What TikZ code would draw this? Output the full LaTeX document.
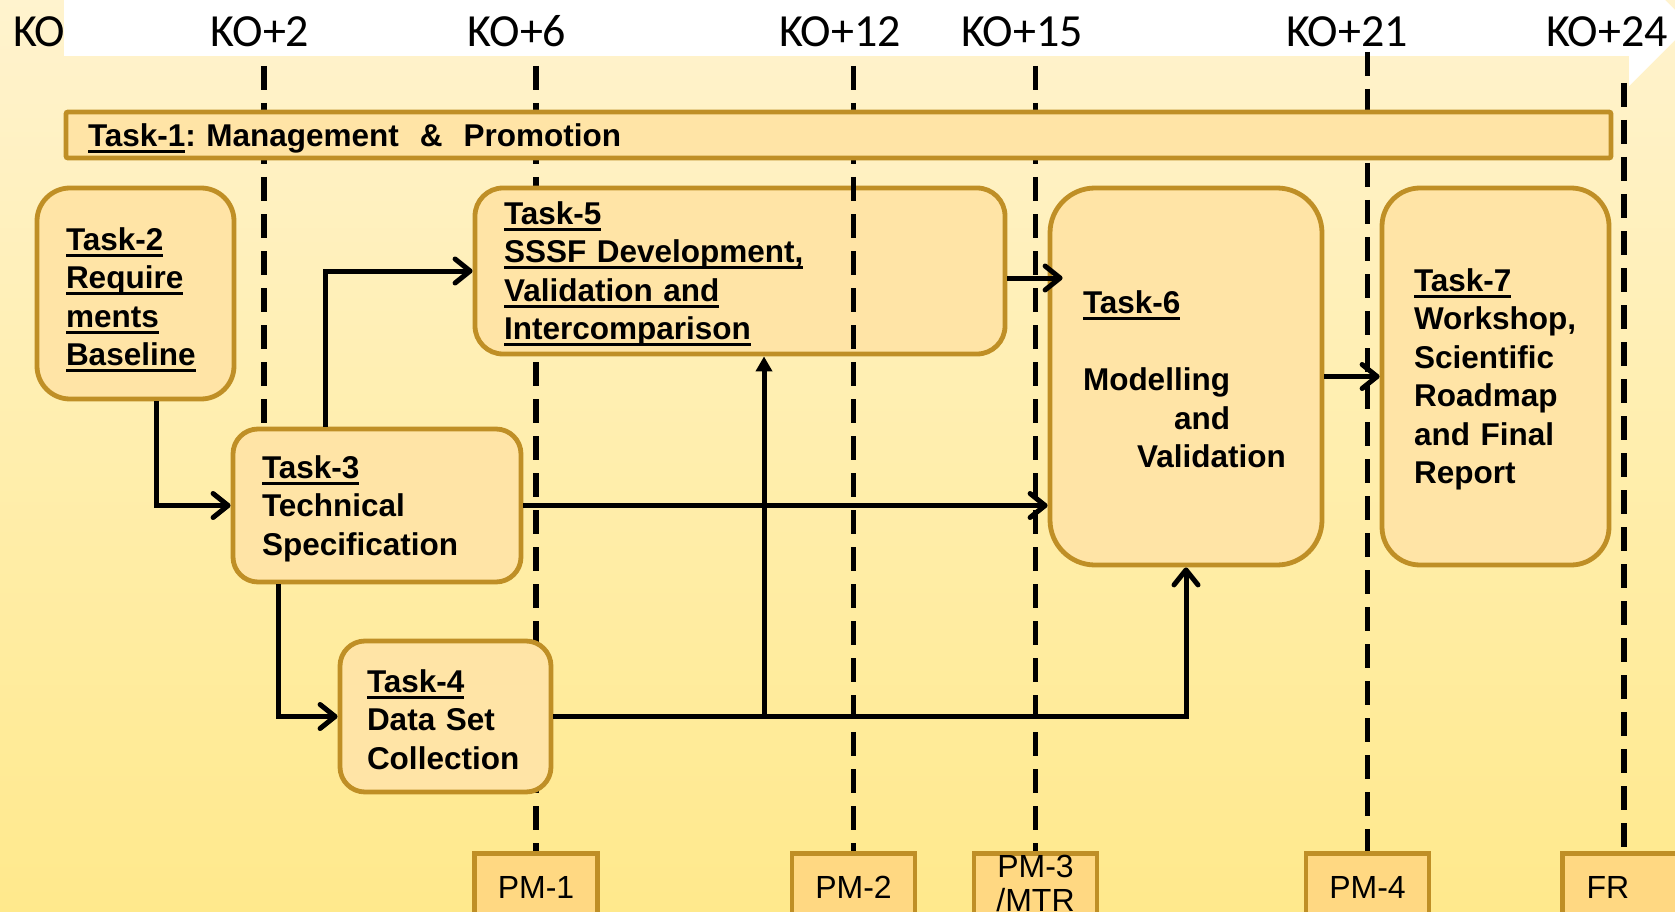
\documentclass[tikz,border=0pt]{standalone}
\usepackage{fontspec}
\setmainfont{Liberation Sans}
\newfontfamily\calibfont{Carlito}
\usetikzlibrary{arrows.meta,calc}
\definecolor{bordc}{RGB}{191,143,38}
\definecolor{boxc}{RGB}{255,228,166}
\definecolor{pmc}{RGB}{255,216,130}
\definecolor{bgtop}{RGB}{255,243,206}
\definecolor{bgbot}{RGB}{255,233,140}
\frenchspacing
\newsavebox\ulbox
\newcommand\ulx[1]{\leavevmode\sbox\ulbox{#1}\rlap{\smash{\rule[-6.5pt]{\wd\ulbox}{3pt}}}\usebox\ulbox}
\newcommand\tpad{\rule{0pt}{29pt}}
\tikzset{
  taskbox/.style={draw=bordc, line width=4.8pt, fill=boxc, align=left, inner ysep=0pt, font=\bfseries\fontsize{31.5}{38.5}\selectfont},
  pmbox/.style={anchor=north, draw=bordc, line width=4.5pt, fill=pmc, minimum width=123pt, inner xsep=0pt, inner ysep=23pt, text height=22pt, text depth=0pt, font=\fontsize{32}{34}\selectfont},
  lbl/.style={anchor=base, inner sep=0pt, font=\calibfont\fontsize{46}{50}\selectfont},
  ms/.style={line width=5.5pt, dash pattern=on 24pt off 13pt},
  conn/.style={line width=5pt, -{Straight Barb[length=15pt,width=24pt,round]}},
  connf/.style={line width=5pt, -{Triangle[length=15pt,width=16pt]}},
}
\begin{document}
\begin{tikzpicture}[x=1pt,y=-1pt]
\useasboundingbox (0,0) rectangle (1675,912);
\clip (0,0) rectangle (1675,912);
\shade[top color=bgtop, bottom color=bgbot] (0,0) rectangle (1675,912);
\fill[white] (64,-5) -- (64,56) -- (1629,56) -- (1629,86) -- (1690,25) -- (1629,-36) -- (64,-36) -- cycle;

% milestone boxes
\node[pmbox] (pm1) at (536,851) {PM-1};
\node[pmbox] (pm2) at (853.5,851) {PM-2};
\node[pmbox] (pm3) at (1035.5,851) {\raisebox{21pt}{\begin{tabular}[t]{@{}c@{}}PM-3\\/MTR\end{tabular}}};
\node[pmbox] (pm4) at (1367.5,851) {PM-4};
\node[pmbox] (fr) at (1624,851) {\hspace*{-32pt}FR};

% milestone lines
\coordinate (m2a) at (264,66);
\coordinate (m2b) at (264,440);
\coordinate (m6a) at (536,66);
\coordinate (m12a) at (853.5,66);
\coordinate (m15a) at (1035.5,66);
\coordinate (m21a) at (1367.5,52);
\coordinate (m24a) at (1624,83);
\draw[ms] (m2a) -- (m2b);
\draw[ms] (m6a) -- (pm1.north);
\draw[ms] (m15a) -- (pm3.north);
\draw[ms] (m21a) -- (pm4.north);
\draw[ms] (m24a) -- (fr.north);

% Task-5 (lies under the KO+12 line)
\node[taskbox, minimum width=530pt, minimum height=166pt, text width=472pt, inner xsep=29pt, rounded corners=28pt] (t5) at (740,271)
  {\tpad\ulx{Task-5}\\\ulx{SSSF Development,}\\\ulx{Validation and}\\\ulx{Intercomparison}};
\draw[ms] (m12a) -- (pm2.north);

% tasks
\node[taskbox, minimum width=1545pt, minimum height=46pt, text width=1501pt, inner xsep=22pt, rounded corners=2pt] (t1) at (838.5,135)
  {\tpad\ulx{Task-1}: Management\ \ \&\ \ Promotion};
\node[taskbox, minimum width=197pt, minimum height=211pt, text width=139pt, inner xsep=29pt, rounded corners=33pt] (t2) at (135.5,293.5)
  {\tpad\ulx{Task-2}\\\ulx{Require}\\\ulx{ments}\\\ulx{Baseline}};
\node[taskbox, minimum width=288pt, minimum height=153pt, text width=230pt, inner xsep=29pt, rounded corners=25pt] (t3) at (377,505.5)
  {\tpad\ulx{Task-3}\\Technical\\Specification};
\node[taskbox, minimum width=211pt, minimum height=151pt, text width=157pt, inner xsep=27pt, rounded corners=25pt] (t4) at (445.5,716.5)
  {\tpad\ulx{Task-4}\\Data Set\\Collection};
\node[taskbox, minimum width=272pt, minimum height=377pt, text width=206pt, inner xsep=33pt, rounded corners=45pt] (t6) at (1186,376.5)
  {\tpad\ulx{Task-6}\\[38.5pt]Modelling\\\mbox{\hspace{91pt}and}\\\mbox{\hspace{54pt}Validation}};
\node[taskbox, minimum width=227pt, minimum height=377pt, text width=163pt, inner xsep=32pt, rounded corners=38pt] (t7) at (1495.5,376.5)
  {\tpad\ulx{Task-7}\\Workshop,\\Scientific\\Roadmap\\and Final\\Report};

% connectors
\coordinate (j) at (764,716.5);
\draw[conn] ([xshift=20.5pt]t2.south) |- (t3.west);
\draw[conn] ([xshift=-52pt]t3.north) |- (t5.west);
\draw[conn] (t3.east) -- (t3.east -| t6.west);
\draw[conn] ([xshift=-99pt]t3.south) |- (t4.west);
\draw[conn] (t4.east) -| (t6.south);
\draw[connf] (j) -- (j |- t5.south);
\draw[conn] ($(t5.east)+(0,7)$) -- ($(t5.east -| t6.west)+(15,7)$);
\draw[conn] (t6.east) -- (t7.west);

% time labels
\node[lbl, anchor=base west] (ko0) at (13,47) {KO};
\node[lbl] (ko2) at (260,47) {KO+2};
\node[lbl] (ko6) at (517,47) {KO+6};
\node[lbl] (ko12) at (840,47) {KO+12};
\node[lbl] (ko15) at (1022,47) {KO+15};
\node[lbl] (ko21) at (1347,47) {KO+21};
\node[lbl] (ko24) at (1607,47) {KO+24};
\end{tikzpicture}
\end{document}
